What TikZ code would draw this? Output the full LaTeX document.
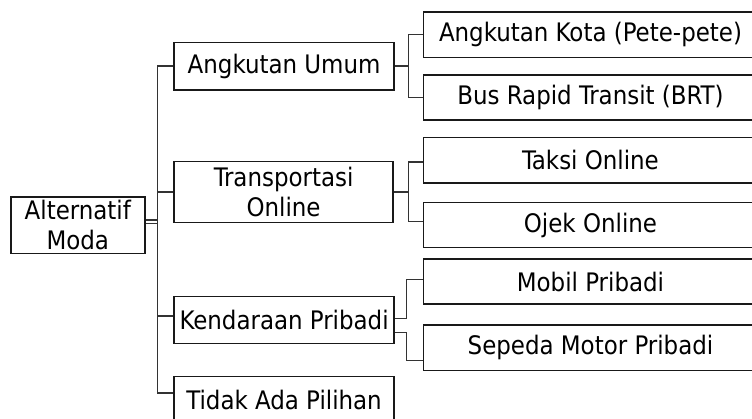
\documentclass[tikz,border=0pt]{standalone}
\usepackage{fontspec}
\setmainfont{DejaVu Sans Condensed}
\begin{document}
\begin{tikzpicture}[x=1pt,y=-1pt,
  box/.style={draw=black!90, line width=1.6pt, inner sep=0pt, anchor=north west,
    align=center, text=black, font=\fontsize{25.5}{30}\selectfont},
  conn/.style={draw=black!80, line width=1.5pt}]
\useasboundingbox (0,0) rectangle (752,419);
\clip (0,0) rectangle (752,419);
\node[box, minimum width=134pt, minimum height=56.7pt] (alt) at (10,196) {Alternatif\\Moda};
\node[box, minimum width=220pt, minimum height=47.3pt] (au) at (173.3,41.7) {Angkutan Umum};
\node[box, minimum width=219pt, minimum height=61pt] (to) at (173.3,160.7) {Transportasi\\Online};
\node[box, minimum width=220pt, minimum height=47pt] (kp) at (173.3,295.7) {Kendaraan Pribadi};
\node[box, minimum width=220pt, minimum height=47pt] (tp) at (173.3,375.7) {Tidak Ada Pilihan};
\node[box, minimum width=334pt, minimum height=45.7pt] (ak) at (422.7,11) {Angkutan Kota (Pete-pete)};
\node[box, minimum width=334pt, minimum height=45pt] (brt) at (422.7,74) {Bus Rapid Transit (BRT)};
\node[box, minimum width=334pt, minimum height=45.6pt] (taksi) at (422.7,136.7) {Taksi Online};
\node[box, minimum width=334pt, minimum height=45pt] (ojek) at (422.7,201.7) {Ojek Online};
\node[box, minimum width=334pt, minimum height=45pt] (mobil) at (422.7,258.3) {Mobil Pribadi};
\node[box, minimum width=334pt, minimum height=45pt] (sepeda) at (422.7,324.5) {Sepeda Motor Pribadi};
% trunk
\coordinate (ttop) at ([xshift=-16pt]au.west);
\coordinate (tbot) at ([xshift=-16pt,yshift=7.2pt]tp.west);
\draw[conn] (ttop) -- (tbot);
\draw[conn] ([yshift=5.3pt]alt.east) -- ([yshift=5.3pt]alt.east -| ttop);
\draw[conn] ([yshift=1.6pt]alt.east) -- ([yshift=1.6pt]alt.east -| ttop);
\draw[conn] (ttop) -- (au.west);
\draw[conn] (to.west -| ttop) -- (to.west);
\draw[conn] ([yshift=4.2pt]kp.west -| ttop) -- ([yshift=4.2pt]kp.west);
\draw[conn] (tbot) -- ([yshift=7.2pt]tp.west);
% brackets
\coordinate (auj) at ([xshift=13.4pt]au.east);
\draw[conn] (au.east) -- (auj);
\draw[conn] (ak.west) -| (auj) |- (brt.west);
\coordinate (toj) at ([xshift=14.4pt]to.east);
\draw[conn] (to.east) -- (toj);
\draw[conn] ([yshift=-1.5pt]taksi.west) -| (toj) |- ([yshift=3.5pt]ojek.west);
\draw[conn] ([yshift=1.5pt]kp.east) -| ([xshift=-16pt,yshift=2pt]mobil.west) -- ([yshift=2pt]mobil.west);
\draw[conn] ([yshift=-12.5pt]kp.east) -| ([xshift=-16pt,yshift=-12.5pt]sepeda.west) -- ([yshift=-12.5pt]sepeda.west);
\end{tikzpicture}
\end{document}
